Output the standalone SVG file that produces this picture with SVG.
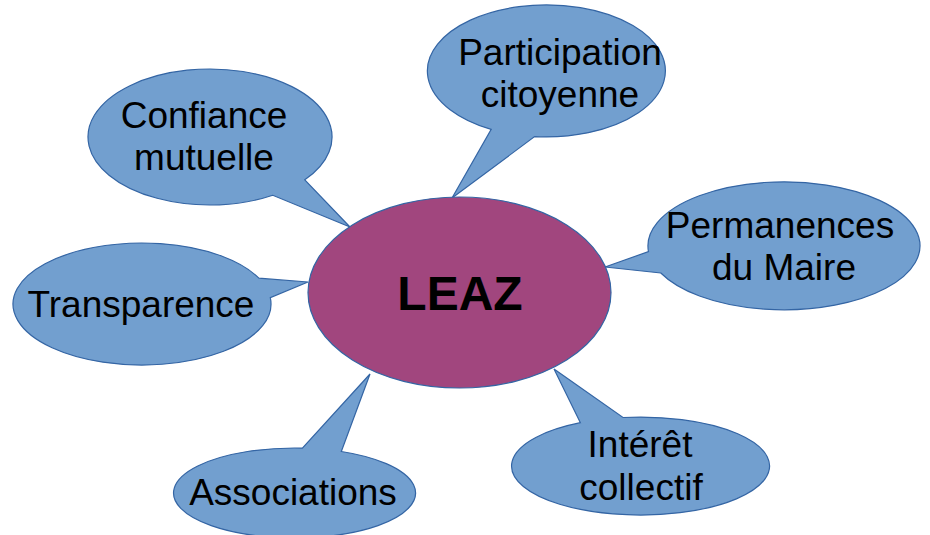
<svg xmlns="http://www.w3.org/2000/svg" width="930" height="535" viewBox="0 0 930 535">
  <style>
    .callout { fill: #729fcf; stroke: #3465a4; stroke-width: 1.2; stroke-linejoin: miter; }
    .center { fill: #a1467e; stroke: #3465a4; stroke-width: 1.2; }
    .lbl { font-family: "Liberation Sans", Arial, sans-serif; font-size: 37px; fill: #000; text-anchor: middle; }
    .main { font-family: "Liberation Sans", Arial, sans-serif; font-size: 48px; font-weight: bold; fill: #000; text-anchor: middle; }
  </style>
  <rect width="930" height="535" fill="#ffffff"/>
  <g id="connectors"></g>
  <g id="confiance">
    <path class="callout" d="M 304.8 179.8 A 122 68 0 1 0 272.8 195.3 L 350 227 Z"/>
    <text class="lbl" x="204" y="128">Confiance</text>
    <text class="lbl" x="204" y="170">mutuelle</text>
  </g>
  <g id="participation">
    <path class="callout" d="M 534.6 136.6 A 119 66 0 1 0 491.2 129.4 L 452 198 Z"/>
    <text class="lbl" x="560" y="65">Participation</text>
    <text class="lbl" x="560" y="107">citoyenne</text>
  </g>
  <g id="permanences">
    <path class="callout" d="M 660.8 273.0 A 136 64 0 1 0 648.5 251.6 L 605 267 Z"/>
    <text class="lbl" x="780" y="238">Permanences</text>
    <text class="lbl" x="784" y="280">du Maire</text>
  </g>
  <g id="transparence">
    <path class="callout" d="M 258.9 278.2 A 129 61 0 1 0 270.3 297.6 L 308 282 Z"/>
    <text class="lbl" x="141" y="317">Transparence</text>
  </g>
  <g id="associations">
    <path class="callout" d="M 302.4 448.1 A 121 45 0 1 0 341.3 451.5 L 370 374 Z"/>
    <text class="lbl" x="293" y="505">Associations</text>
  </g>
  <g id="interet">
    <path class="callout" d="M 580.4 422.7 A 129 49 0 1 0 623.0 417.5 L 554 369 Z"/>
    <text class="lbl" x="640" y="457">Intérêt</text>
    <text class="lbl" x="641" y="500">collectif</text>
  </g>
  <g id="leaz">
    <ellipse class="center" cx="459.5" cy="292.5" rx="151.5" ry="95.5"/>
    <text class="main" x="460" y="310">LEAZ</text>
  </g>
</svg>
